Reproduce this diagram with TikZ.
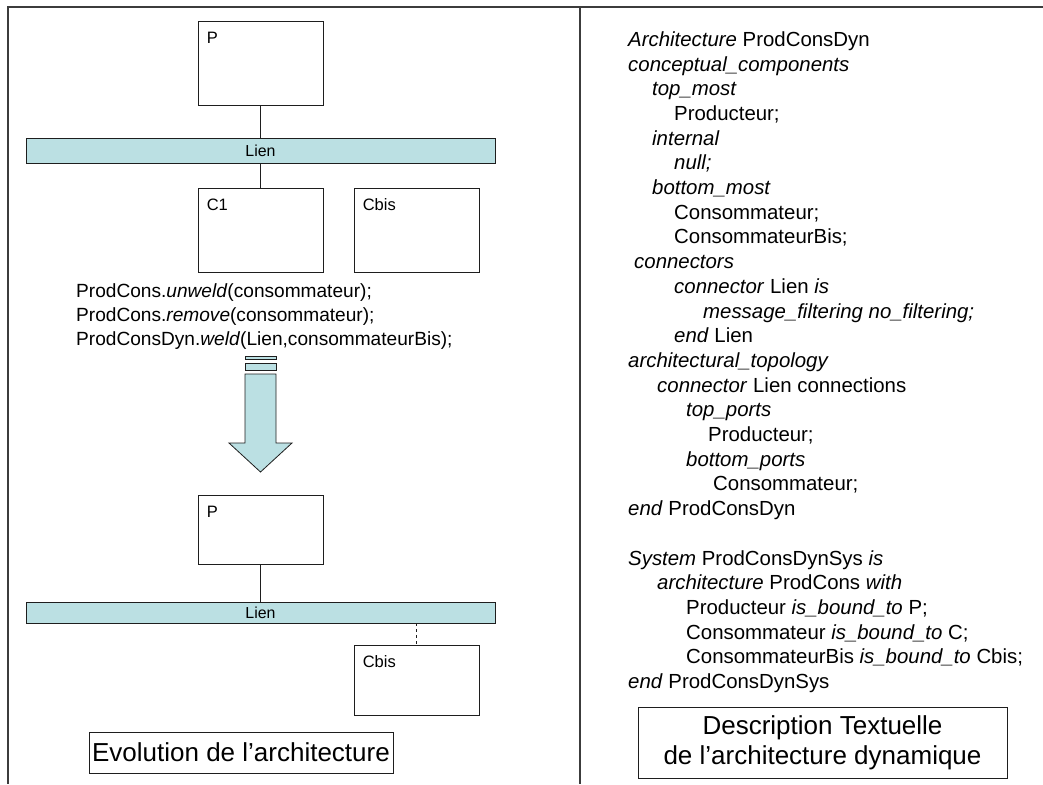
\documentclass[tikz,border=0pt]{standalone}
\usepackage{fontspec}
\setmainfont{Liberation Sans}
\usepackage{xcolor}
\definecolor{lienfill}{HTML}{BBE0E3}
\definecolor{ink}{HTML}{1E1E1E}
\definecolor{rule}{HTML}{3C3C3C}
\usetikzlibrary{calc,positioning}

\begin{document}
\begin{tikzpicture}[x=1pt, y=-1pt,
    comp/.style={draw=ink, line width=0.9pt, fill=white, minimum width=125pt, inner sep=0pt},
    lien/.style={draw=ink, line width=0.9pt, fill=lienfill, minimum width=469pt, inner sep=0pt, font=\fontsize{15.9}{18}\selectfont},
    tag/.style={anchor=north west, inner sep=0pt, xshift=9pt, yshift=-11pt, font=\fontsize{16.5}{19}\selectfont},
    cmd/.style={anchor=base west, inner sep=0pt, font=\fontsize{19.1}{24}\selectfont},
    code/.style={anchor=base west, inner sep=0pt, font=\fontsize{20.4}{24.7}\selectfont},
    titlebox/.style={draw=ink, line width=0.9pt, inner sep=0pt, align=center, font=\fontsize{26}{30}\selectfont}]
  \useasboundingbox (0,0) rectangle (1043,784);

  % Frame and separator
  \draw[rule, line width=1.6pt] (7,7) -- (1043,7);
  \draw[rule, line width=1.6pt] (8,7) -- (8,784);
  \draw[rule, line width=1.6pt] (580,7) -- (580,784);

  % Architecture before the change
  \node[comp, minimum height=84pt, label={[tag]north west:P}] (p1) at (260.5,63) {};
  \node[lien, minimum height=25pt] (lien1) at (260.5,150.5) {Lien};
  \node[comp, minimum height=84pt, label={[tag]north west:C1}] (c1) at (260.5,230) {};
  \node[comp, minimum height=84pt, label={[tag]north west:Cbis}] (cbis1) at (416.5,230) {};
  \draw[ink, line width=0.9pt] (p1) -- (lien1);
  \draw[ink, line width=0.9pt] (lien1) -- (c1);

  % Reconfiguration commands
  \foreach \n/\txt in {1/{ProdCons.\textit{unweld}(consommateur);},
                       2/{ProdCons.\textit{remove}(consommateur);},
                       3/{ProdConsDyn.\textit{weld}(Lien,consommateurBis);}}{
    \node[cmd] (cmd\n) at (76,273+24*\n) {\txt};
  }

  % Transition arrow
  \draw[ink, line width=0.8pt, fill=lienfill] (245,356) rectangle (276,359);
  \draw[ink, line width=0.8pt, fill=lienfill] (245,363) rectangle (276,370);
  \draw[ink, line width=0.8pt, fill=lienfill, line join=miter]
    (245,374) -- (276,374) -- (276,443) -- (292,443) -- (260.5,472)
    -- (229,443) -- (245,443) -- cycle;

  % Architecture after the change
  \node[comp, minimum height=69pt, label={[tag]north west:P}] (p2) at (260.5,529.5) {};
  \node[lien, minimum height=21pt] (lien2) at (260.5,612.5) {Lien};
  \node[comp, minimum height=70pt, label={[tag]north west:Cbis}] (cbis2) at (416.5,680) {};
  \draw[ink, line width=0.9pt] (p2) -- (lien2);
  \draw[ink, line width=0.9pt, dashed] (lien2.south -| cbis2.north) -- (cbis2.north);

  \node[titlebox, minimum width=304pt, minimum height=41pt] (evo) at (241,752.5) {Evolution de l’architecture};

  % Textual description
  \foreach \n/\dx/\txt in {
      1/0/{\textit{Architecture} ProdConsDyn},
      2/0/{\textit{conceptual\_components}},
      3/24/{\textit{top\_most}},
      4/46/{Producteur;},
      5/24/{\textit{internal}},
      6/46/{\textit{null;}},
      7/24/{\textit{bottom\_most}},
      8/46/{Consommateur;},
      9/46/{ConsommateurBis;},
      10/6/{\textit{connectors}},
      11/46/{\textit{connector} Lien \textit{is}},
      12/75/{\textit{message\_filtering no\_filtering;}},
      13/46/{\textit{end} Lien},
      14/0/{\textit{architectural\_topology}},
      15/29/{\textit{connector} Lien connections},
      16/58/{\textit{top\_ports}},
      17/80/{Producteur;},
      18/58/{\textit{bottom\_ports}},
      19/85/{Consommateur;},
      20/0/{\textit{end} ProdConsDyn},
      22/0/{\textit{System} ProdConsDynSys \textit{is}},
      23/29/{\textit{architecture} ProdCons \textit{with}},
      24/58/{Producteur \textit{is\_bound\_to} P;},
      25/58/{Consommateur \textit{is\_bound\_to} C;},
      26/58/{ConsommateurBis \textit{is\_bound\_to} Cbis;},
      27/0/{\textit{end} ProdConsDynSys}}{
    \node[code] (d\n) at (628+\dx, 21.6+24.7*\n) {\txt};
  }

  \node[titlebox, minimum width=369pt, minimum height=71pt] (desc) at (822.5,742.5) {Description Textuelle\\de l’architecture dynamique};
\end{tikzpicture}
\end{document}
